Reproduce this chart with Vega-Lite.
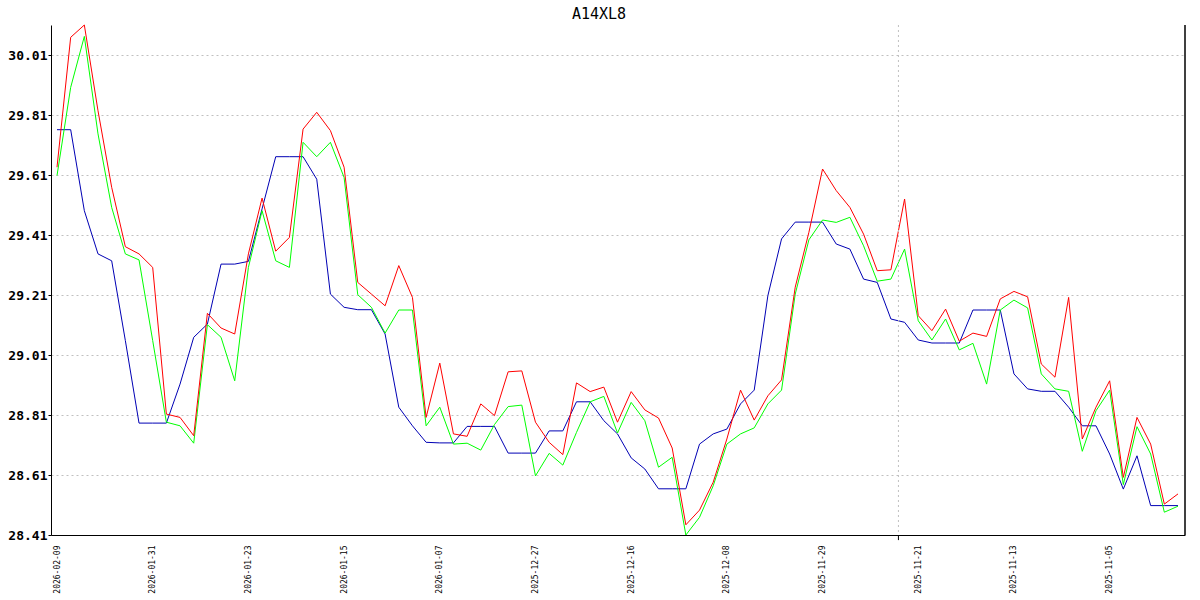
{
  "$schema": "https://vega.github.io/schema/vega-lite/v6.json",
  "width": 1134,
  "height": 510,
  "autosize": {"type": "none"},
  "padding": {"left": 51, "top": 25, "right": 15, "bottom": 65},
  "background": "white",
  "title": {"text": "A14XL8", "font": "DejaVu Sans Mono", "fontSize": 15, "fontWeight": "normal", "color": "black", "anchor": "middle", "dx": -19, "dy": 4, "offset": 5},
  "config": {"view": {"stroke": null}},
  "datasets": {
    "prices": [
      {"i": 0, "r": 29.636, "g": 29.608, "b": 29.761},
      {"i": 1, "r": 30.069, "g": 29.902, "b": 29.761},
      {"i": 2, "r": 30.11, "g": 30.072, "b": 29.491},
      {"i": 3, "r": 29.824, "g": 29.747, "b": 29.347},
      {"i": 4, "r": 29.569, "g": 29.502, "b": 29.324},
      {"i": 5, "r": 29.371, "g": 29.347, "b": 29.058},
      {"i": 6, "r": 29.347, "g": 29.327, "b": 28.783},
      {"i": 7, "r": 29.302, "g": 29.058, "b": 28.783},
      {"i": 8, "r": 28.813, "g": 28.786, "b": 28.783},
      {"i": 9, "r": 28.802, "g": 28.774, "b": 28.913},
      {"i": 10, "r": 28.741, "g": 28.716, "b": 29.069},
      {"i": 11, "r": 29.149, "g": 29.111, "b": 29.113},
      {"i": 12, "r": 29.1, "g": 29.069, "b": 29.313},
      {"i": 13, "r": 29.08, "g": 28.924, "b": 29.313},
      {"i": 14, "r": 29.347, "g": 29.302, "b": 29.322},
      {"i": 15, "r": 29.533, "g": 29.491, "b": 29.497},
      {"i": 16, "r": 29.356, "g": 29.324, "b": 29.671},
      {"i": 17, "r": 29.402, "g": 29.302, "b": 29.671},
      {"i": 18, "r": 29.763, "g": 29.719, "b": 29.671},
      {"i": 19, "r": 29.819, "g": 29.671, "b": 29.596},
      {"i": 20, "r": 29.758, "g": 29.719, "b": 29.213},
      {"i": 21, "r": 29.636, "g": 29.602, "b": 29.169},
      {"i": 22, "r": 29.252, "g": 29.211, "b": 29.161},
      {"i": 23, "r": 29.213, "g": 29.169, "b": 29.161},
      {"i": 24, "r": 29.174, "g": 29.083, "b": 29.08},
      {"i": 25, "r": 29.308, "g": 29.16, "b": 28.836},
      {"i": 26, "r": 29.202, "g": 29.16, "b": 28.774},
      {"i": 27, "r": 28.802, "g": 28.774, "b": 28.719},
      {"i": 28, "r": 28.983, "g": 28.836, "b": 28.717},
      {"i": 29, "r": 28.747, "g": 28.713, "b": 28.717},
      {"i": 30, "r": 28.739, "g": 28.716, "b": 28.772},
      {"i": 31, "r": 28.847, "g": 28.693, "b": 28.772},
      {"i": 32, "r": 28.808, "g": 28.778, "b": 28.772},
      {"i": 33, "r": 28.954, "g": 28.838, "b": 28.683},
      {"i": 34, "r": 28.957, "g": 28.843, "b": 28.683},
      {"i": 35, "r": 28.786, "g": 28.607, "b": 28.683},
      {"i": 36, "r": 28.719, "g": 28.682, "b": 28.757},
      {"i": 37, "r": 28.678, "g": 28.643, "b": 28.757},
      {"i": 38, "r": 28.917, "g": 28.752, "b": 28.854},
      {"i": 39, "r": 28.888, "g": 28.854, "b": 28.854},
      {"i": 40, "r": 28.903, "g": 28.872, "b": 28.791},
      {"i": 41, "r": 28.786, "g": 28.75, "b": 28.747},
      {"i": 42, "r": 28.888, "g": 28.852, "b": 28.667},
      {"i": 43, "r": 28.827, "g": 28.791, "b": 28.63},
      {"i": 44, "r": 28.8, "g": 28.636, "b": 28.564},
      {"i": 45, "r": 28.7, "g": 28.669, "b": 28.564},
      {"i": 46, "r": 28.444, "g": 28.41, "b": 28.564},
      {"i": 47, "r": 28.493, "g": 28.469, "b": 28.713},
      {"i": 48, "r": 28.586, "g": 28.574, "b": 28.747},
      {"i": 49, "r": 28.73, "g": 28.713, "b": 28.763},
      {"i": 50, "r": 28.893, "g": 28.747, "b": 28.847},
      {"i": 51, "r": 28.793, "g": 28.767, "b": 28.893},
      {"i": 52, "r": 28.874, "g": 28.847, "b": 29.208},
      {"i": 53, "r": 28.927, "g": 28.893, "b": 29.397},
      {"i": 54, "r": 29.236, "g": 29.213, "b": 29.453},
      {"i": 55, "r": 29.419, "g": 29.394, "b": 29.453},
      {"i": 56, "r": 29.63, "g": 29.46, "b": 29.453},
      {"i": 57, "r": 29.558, "g": 29.452, "b": 29.38},
      {"i": 58, "r": 29.502, "g": 29.469, "b": 29.363},
      {"i": 59, "r": 29.413, "g": 29.374, "b": 29.263},
      {"i": 60, "r": 29.291, "g": 29.256, "b": 29.252},
      {"i": 61, "r": 29.294, "g": 29.263, "b": 29.13},
      {"i": 62, "r": 29.53, "g": 29.363, "b": 29.119},
      {"i": 63, "r": 29.141, "g": 29.124, "b": 29.06},
      {"i": 64, "r": 29.091, "g": 29.06, "b": 29.05},
      {"i": 65, "r": 29.163, "g": 29.13, "b": 29.05},
      {"i": 66, "r": 29.056, "g": 29.027, "b": 29.05},
      {"i": 67, "r": 29.083, "g": 29.049, "b": 29.16},
      {"i": 68, "r": 29.072, "g": 28.913, "b": 29.16},
      {"i": 69, "r": 29.197, "g": 29.16, "b": 29.16},
      {"i": 70, "r": 29.222, "g": 29.193, "b": 28.947},
      {"i": 71, "r": 29.204, "g": 29.167, "b": 28.897},
      {"i": 72, "r": 28.98, "g": 28.947, "b": 28.889},
      {"i": 73, "r": 28.936, "g": 28.897, "b": 28.889},
      {"i": 74, "r": 29.202, "g": 28.889, "b": 28.836},
      {"i": 75, "r": 28.73, "g": 28.689, "b": 28.774},
      {"i": 76, "r": 28.836, "g": 28.824, "b": 28.774},
      {"i": 77, "r": 28.924, "g": 28.893, "b": 28.68},
      {"i": 78, "r": 28.602, "g": 28.578, "b": 28.563},
      {"i": 79, "r": 28.802, "g": 28.771, "b": 28.674},
      {"i": 80, "r": 28.713, "g": 28.68, "b": 28.508},
      {"i": 81, "r": 28.513, "g": 28.486, "b": 28.508},
      {"i": 82, "r": 28.547, "g": 28.506, "b": 28.508}
    ],
    "marker": [{"m": 61.55}]
  },
  "layer": [
    {
      "data": {"name": "prices"},
      "mark": {"type": "line", "color": "#0000b4", "strokeWidth": 1},
      "encoding": {
        "x": {
          "field": "i", "type": "quantitative",
          "scale": {"domain": [-0.439, 82.512], "nice": false, "zero": false},
          "axis": {
            "values": [0, 7, 14, 21, 28, 35, 42, 49, 56, 63, 70, 77],
            "labelExpr": "['2026-02-09','2026-01-31','2026-01-23','2026-01-15','2026-01-07','2025-12-27','2025-12-16','2025-12-08','2025-11-29','2025-11-21','2025-11-13','2025-11-05'][round(datum.value/7)]",
            "labelAngle": 270, "labelAlign": "right", "labelBaseline": "middle",
            "ticks": false, "grid": false, "domainColor": "black", "domainWidth": 1,
            "labelFont": "DejaVu Sans Mono", "labelFontSize": 8, "labelColor": "black",
            "labelPadding": 10, "labelOverlap": false, "title": null
          }
        },
        "y": {
          "field": "b", "type": "quantitative",
          "scale": {"domain": [28.41, 30.11], "nice": false, "zero": false},
          "axis": {
            "values": [28.41, 28.61, 28.81, 29.01, 29.21, 29.41, 29.61, 29.81, 30.01],
            "format": ".2f", "grid": true, "gridDash": [2, 3], "gridColor": "#c0c0c0", "gridOpacity": 1,
            "tickSize": 3, "tickColor": "black", "domainColor": "black", "domainWidth": 1,
            "labelFont": "DejaVu Sans Mono", "labelFontWeight": "bold", "labelFontSize": 13, "labelColor": "black",
            "labelPadding": 1, "labelOverlap": false, "title": null
          }
        }
      }
    },
    {
      "data": {"name": "prices"},
      "mark": {"type": "line", "color": "#00ff00", "strokeWidth": 1},
      "encoding": {"x": {"field": "i", "type": "quantitative"}, "y": {"field": "g", "type": "quantitative"}}
    },
    {
      "data": {"name": "prices"},
      "mark": {"type": "line", "color": "#ff0000", "strokeWidth": 1},
      "encoding": {"x": {"field": "i", "type": "quantitative"}, "y": {"field": "r", "type": "quantitative"}}
    },
    {
      "data": {"name": "marker"},
      "mark": {"type": "rule", "color": "#c0c0c0", "strokeDash": [2, 3], "strokeWidth": 1},
      "encoding": {"x": {"field": "m", "type": "quantitative"}}
    },
    {
      "data": {"name": "marker"},
      "mark": {"type": "rule", "color": "black", "strokeWidth": 1, "clip": false},
      "encoding": {"x": {"field": "m", "type": "quantitative"}, "y": {"datum": 28.41}, "y2": {"datum": 28.393}}
    },
    {
      "data": {"name": "marker"},
      "mark": {"type": "rule", "color": "black", "strokeWidth": 1.5},
      "encoding": {"x": {"value": "width"}}
    }
  ]
}
